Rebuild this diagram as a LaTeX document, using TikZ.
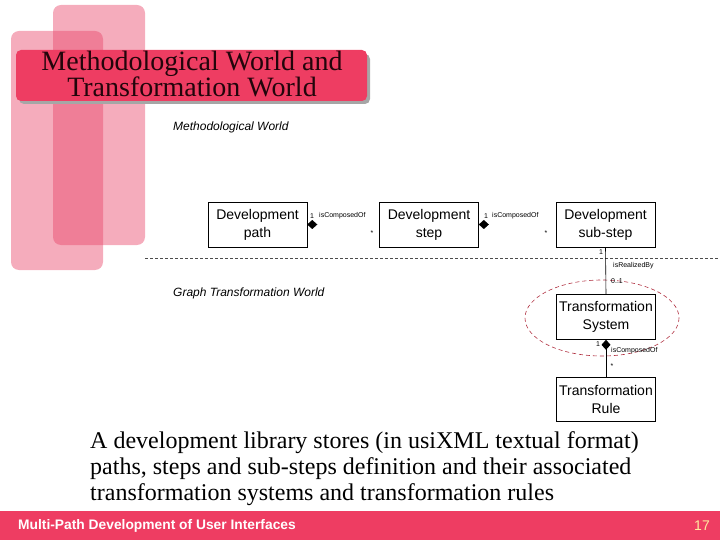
\documentclass[tikz,border=0pt]{standalone}
\usepackage{fontspec}
\setmainfont{Liberation Serif}
\setsansfont{Liberation Sans}
\usetikzlibrary{arrows.meta,shapes.geometric}
\definecolor{barpink}{HTML}{EE3D62}
\definecolor{rectpink}{HTML}{E8466A}
\definecolor{titletxt}{HTML}{22050B}
\definecolor{ellred}{HTML}{B03040}
\definecolor{pagenum}{HTML}{FFE9A0}
\newcommand{\mytighttitlefont}{\fontsize{28}{25.5}\selectfont\setlength{\lineskiplimit}{-100pt}\setlength{\lineskip}{0pt}}
\tikzset{
  umlbox/.style={draw=black, line width=0.6pt, fill=white, minimum width=99pt, minimum height=45pt,
    align=center, inner sep=0pt, font=\sffamily\fontsize{14}{18}\selectfont},
  smalllbl/.style={font=\sffamily\fontsize{7}{8}\selectfont, inner sep=0pt},
  worldlbl/.style={font=\sffamily\itshape\fontsize{12}{14}\selectfont, anchor=west, inner sep=0pt},
  bodyline/.style={font=\fontsize{24}{26}\selectfont, anchor=west, inner sep=0pt},
  titletext/.style={font=\mytighttitlefont, text=titletxt, align=center, inner sep=0pt},
  comp/.style={white, {Diamond[black,fill=black,length=10pt,width=9pt]}-},
}
\begin{document}
\begin{tikzpicture}[x=1pt,y=-1pt]
\useasboundingbox (0,0) rectangle (720,540);
% background decoration
\fill[rectpink, opacity=0.45, rounded corners=8pt] (11,31) rectangle (103,270);
\fill[rectpink, opacity=0.45, rounded corners=8pt] (53,5) rectangle (145,245);
% title bar
\fill[black!35, rounded corners=5pt] (19,54) rectangle (370,104);
\fill[barpink, rounded corners=5pt] (16,50) rectangle (367,101);
\node[titletext] (title) at (192,74) {Methodological World and\\Transformation World};
% world labels
\node[worldlbl] (mw) at (173,127) {Methodological World};
\node[worldlbl] (gw) at (173,293) {Graph Transformation World};
% separator
\draw[black!70, dash pattern=on 3pt off 2pt, line width=0.6pt] (145,258) -- (720,258);
% ellipse
\draw[ellred, dash pattern=on 4pt off 3pt, line width=0.6pt] (602,318) ellipse [x radius=77, y radius=38];
% boxes
\node[umlbox] (path) at (257.5,224.5) {Development\\path};
\node[umlbox] (step) at (429,224.5) {Development\\step};
\node[umlbox] (sub) at (605.5,224.5) {Development\\sub-step};
\node[umlbox] (ts) at (606,317) {Transformation\\System};
\node[umlbox, minimum height=44pt] (rule) at (606,399) {Transformation\\Rule};
% connectors
\draw[comp] (path.east) -- (step.west);
\draw[comp] (step.east) -- (sub.west);
\draw[black, line width=0.6pt] (sub.south) -- (ts.north);
\draw[black, line width=0.9pt, {Diamond[fill=black,length=10pt,width=9pt]}-] (ts.south) -- (rule.north);
% connector labels
\node[smalllbl] (l1) at (312,216) {1};
\node[smalllbl, anchor=west] (l2) at (319,216) {isComposedOf};
\node[smalllbl] (l3) at (372,233) {*};
\node[smalllbl] (l4) at (486,216) {1};
\node[smalllbl, anchor=west] (l5) at (492,216) {isComposedOf};
\node[smalllbl] (l6) at (546,233) {*};
\node[smalllbl] (l7) at (601,252) {1};
\node[smalllbl, anchor=west] (l8) at (613,266) {isRealizedBy};
\node[smalllbl, anchor=west] (l9) at (611,281) {0..1};
\node[smalllbl] (l10) at (598,344) {1};
\node[smalllbl, anchor=west] (l11) at (611,351) {isComposedOf};
\node[smalllbl] (l12) at (612,366) {*};
% body text
\node[bodyline] (b1) at (90,443) {A development library stores (in usiXML textual format)};
\node[bodyline] (b2) at (90,469) {paths, steps and sub-steps definition and their associated};
\node[bodyline] (b3) at (90,495) {transformation systems and transformation rules};
% footer
\fill[barpink] (0,511) rectangle (720,540);
\node[font=\sffamily\bfseries\fontsize{13.8}{15}\selectfont, text=white, anchor=west, inner sep=0pt] (foot) at (18,526)
  {Multi-Path Development of User Interfaces};
\node[font=\sffamily\fontsize{14}{15}\selectfont, text=pagenum, anchor=east, inner sep=0pt] (pg) at (710,526) {17};
\end{tikzpicture}
\end{document}
